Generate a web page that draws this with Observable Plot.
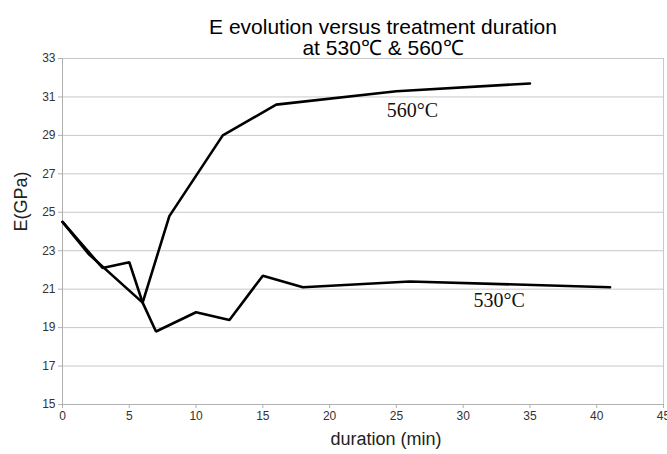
<!DOCTYPE html>
<html>
<head>
<meta charset="utf-8">
<script src="https://cdn.jsdelivr.net/npm/d3@7"></script>
<script src="https://cdn.jsdelivr.net/npm/@observablehq/plot@0.6"></script>
<style>
  html, body { margin: 0; padding: 0; background: #fff; }
  #wrap { position: relative; width: 667px; height: 454px; overflow: hidden; }
  #title { position: absolute; left: 99px; right: 0; top: 16px;
    font-family: "Liberation Sans", Arial, sans-serif; font-size: 21px; line-height: 21px;
    text-align: center; color: #000; z-index: 2; }
  svg { display: block; }
</style>
</head>
<body>
<div id="wrap">
  <div id="title">E evolution versus treatment duration<br>at 530℃ &amp; 560℃</div>
  <div id="chart"></div>
</div>
<script>
const dur530 = [0, 3, 5, 6, 7, 10, 12.5, 15, 18, 26, 41];
const e530   = [24.5, 22.1, 22.4, 20.3, 18.8, 19.8, 19.4, 21.7, 21.1, 21.4, 21.1];
const dur560 = [0, 2, 6, 8, 12, 16, 25, 35];
const e560   = [24.5, 22.8, 20.3, 24.8, 29.0, 30.6, 31.3, 31.7];
const xTicks = [0, 5, 10, 15, 20, 25, 30, 35, 40, 45];
const yTicks = [15, 17, 19, 21, 23, 25, 27, 29, 31, 33];
const seriesLabels = ["530°C", "560°C"];
const labelX = [32.7, 26.2];
const labelY = [20.4, 30.3];
const xTitle = "duration (min)";
const yTitle = "E(GPa)";

const d530 = dur530.map((d, i) => ({x: d, y: e530[i]}));
const d560 = dur560.map((d, i) => ({x: d, y: e560[i]}));
const labels = seriesLabels.map((t, i) => ({t, x: labelX[i], y: labelY[i]}));

const chart = Plot.plot({
  width: 667,
  height: 454,
  marginTop: 58,
  marginBottom: 50,
  marginLeft: 62,
  marginRight: 4,
  style: { fontFamily: "Liberation Sans, Arial, sans-serif", fontSize: "12px", color: "#333", background: "#fff" },
  x: { domain: [0, 45], ticks: xTicks, label: null },
  y: { domain: [15, 33], ticks: yTicks, label: null },
  marks: [
    Plot.gridY(yTicks, { stroke: "#c8c8c8", strokeOpacity: 1, strokeWidth: 1 }),
    Plot.ruleX([45], { stroke: "#c8c8c8", strokeWidth: 1 }),
    Plot.ruleX([0], { stroke: "#b0b0b0", strokeWidth: 1 }),
    Plot.ruleY([15], { stroke: "#b0b0b0", strokeWidth: 1 }),
    Plot.axisY(yTicks, { tickSize: 4, tickPadding: 3, stroke: "#b0b0b0", fill: "#333", fontSize: 12, label: null }),
    Plot.axisX(xTicks, { tickSize: 4, tickPadding: 3, stroke: "#b0b0b0", fill: "#333", fontSize: 12, label: null }),
    Plot.text([yTitle], { frameAnchor: "left", rotate: -90, dx: -41, fontSize: 18, fill: "#222" }),
    Plot.text([xTitle], { frameAnchor: "bottom", dx: 23, dy: 40, fontSize: 18, fill: "#222" }),
    Plot.line(d530, { x: "x", y: "y", stroke: "#000", strokeWidth: 2.6, strokeLinejoin: "miter" }),
    Plot.line(d560, { x: "x", y: "y", stroke: "#000", strokeWidth: 2.6, strokeLinejoin: "miter" }),
    Plot.text(labels, { x: "x", y: "y", text: "t", fontFamily: "Liberation Serif, Times New Roman, serif", fontSize: 20, fill: "#111" })
  ]
});
document.getElementById("chart").appendChild(chart);
</script>
</body>
</html>
